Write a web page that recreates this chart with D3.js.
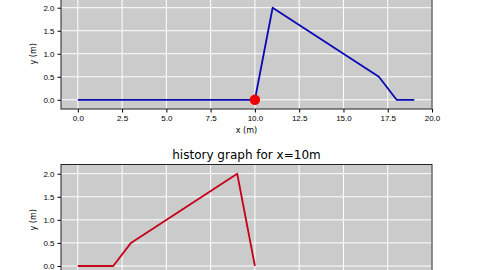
<!DOCTYPE html>
<html>
<head>
<meta charset="utf-8">
<script src="https://cdn.jsdelivr.net/npm/d3@7"></script>
<style>
    body { margin: 0; background: #fff; }
    svg { display: block; font-family: "DejaVu Sans", sans-serif; }
    .tick text { font-size: 8px; fill: #000; }
</style>
</head>
<body>
<div id="chart"></div>
<script>
    // wave profile at current time
    var xPos = [0, 10, 11, 17, 18, 19];
    var yPos = [0, 0, 2, 0.5, 0, 0];
    // probe position
    var probeX = 10, probeY = 0;
    // history at x=10m
    var tHist = [0, 2, 3, 9, 10];
    var yHist = [0, 0, 0.5, 2, 0];
    var xTicks = [0, 2.5, 5, 7.5, 10, 12.5, 15, 17.5, 20];
    var yTicks = [0, 0.5, 1, 1.5, 2];

    var vWidth = 480, vHeight = 270;
    var svg = d3.select('#chart').append('svg')
        .attr('width', vWidth).attr('height', vHeight);

    var left = 61, right = 432;

    function drawPanel(top, bottom, xs, ys, color, opts) {
        var x = d3.scaleLinear().domain([-0.95, 20]).range([left, right]);
        var y = d3.scaleLinear().domain([-0.2, 2.2]).range([bottom, top]);
        var g = svg.append('g');

        g.append('rect')
            .attr('x', left).attr('y', top)
            .attr('width', right - left).attr('height', bottom - top)
            .attr('fill', '#cbcbcb');

        // grid
        g.selectAll('line.gx').data(xTicks).enter().append('line')
            .attr('x1', d => x(d)).attr('x2', d => x(d))
            .attr('y1', top).attr('y2', bottom)
            .attr('stroke', '#fff').attr('stroke-width', 1);
        g.selectAll('line.gy').data(yTicks).enter().append('line')
            .attr('y1', d => y(d)).attr('y2', d => y(d))
            .attr('x1', left).attr('x2', right)
            .attr('stroke', '#fff').attr('stroke-width', 1);

        var line = d3.line().x(d => x(d[0])).y(d => y(d[1]));
        g.append('path')
            .datum(xs.map((v, i) => [v, ys[i]]))
            .attr('d', line)
            .attr('fill', 'none')
            .attr('stroke', color)
            .attr('stroke-width', 1.8)
            .attr('stroke-linejoin', 'round');

        if (opts.probe) {
            g.append('circle')
                .attr('cx', x(probeX)).attr('cy', y(probeY))
                .attr('r', 5.2).attr('fill', '#ee0000');
        }

        // spines
        g.append('rect')
            .attr('x', left).attr('y', top)
            .attr('width', right - left).attr('height', bottom - top)
            .attr('fill', 'none').attr('stroke', '#222').attr('stroke-width', 1);

        // bottom panel's x axis falls below the picture, so only draw it on top
        if (opts.xlabel) {
            var xAxis = g.append('g')
                .attr('transform', 'translate(0,' + bottom + ')')
                .call(d3.axisBottom(x).tickValues(xTicks).tickFormat(d3.format('.1f')).tickSize(3.5).tickPadding(3));
            xAxis.select('.domain').remove();
            xAxis.selectAll('.tick line').attr('stroke', '#000');
        }
        var yAxis = g.append('g')
            .attr('transform', 'translate(' + left + ',0)')
            .call(d3.axisLeft(y).tickValues(yTicks).tickFormat(d3.format('.1f')).tickSize(3.5).tickPadding(3));
        yAxis.select('.domain').remove();
        yAxis.selectAll('.tick line').attr('stroke', '#000');

        g.append('text')
            .attr('transform', 'translate(36,' + ((top + bottom) / 2) + ') rotate(-90)')
            .attr('text-anchor', 'middle')
            .attr('font-size', 8)
            .text('y (m)');

        if (opts.xlabel) {
            g.append('text')
                .attr('x', (left + right) / 2).attr('y', bottom + 24)
                .attr('text-anchor', 'middle')
                .attr('font-size', 8)
                .text(opts.xlabel);
        }
        if (opts.title) {
            g.append('text')
                .attr('x', (left + right) / 2).attr('y', top - 6)
                .attr('text-anchor', 'middle')
                .attr('font-size', 12)
                .text(opts.title);
        }
    }

    drawPanel(-1.5, 109, xPos, yPos, '#0a0ab4', {probe: true, xlabel: 'x (m)'});
    drawPanel(164.5, 275.2, tHist, yHist, '#c4001a', {title: 'history graph for x=10m'});
</script>
</body>
</html>
